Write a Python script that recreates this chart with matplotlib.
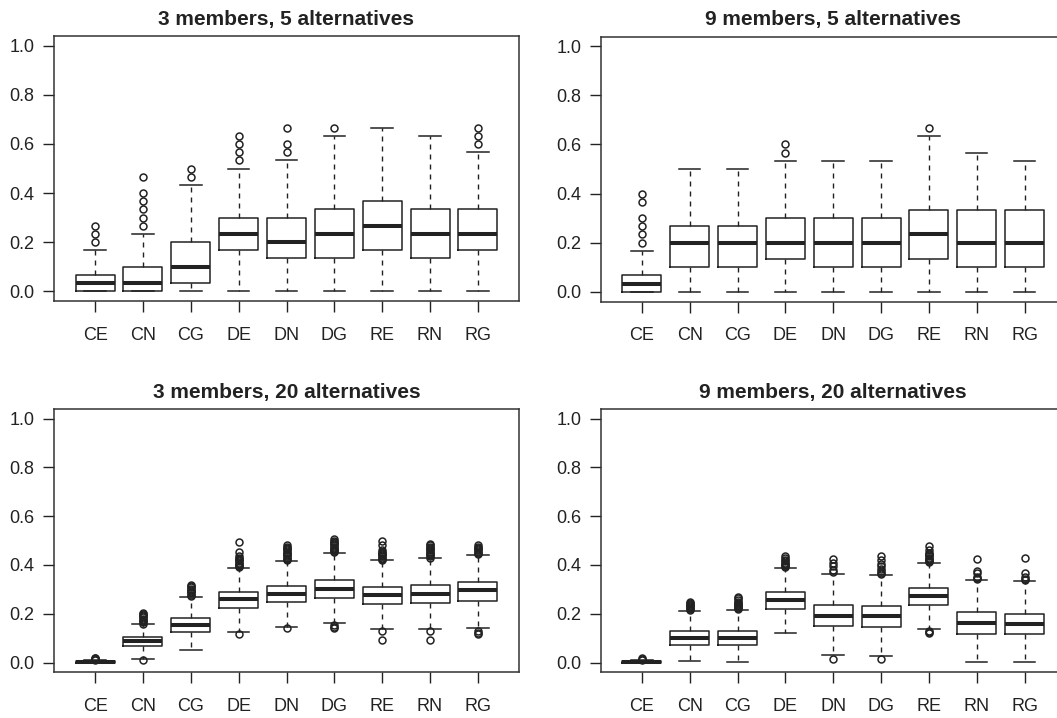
import matplotlib
matplotlib.use("Agg")
import matplotlib.pyplot as plt
import numpy as np

plt.rcParams['font.family'] = ['Liberation Sans', 'DejaVu Sans']

methods = ['CE', 'CN', 'CG', 'DE', 'DN', 'DG', 'RE', 'RN', 'RG']
titles = ['3 members, 5 alternatives', '9 members, 5 alternatives',
          '3 members, 20 alternatives', '9 members, 20 alternatives']

# ---- 3 members, 5 alternatives ----
m3a5_q1 = [0.0, 0.0, 0.0333, 0.1667, 0.1333, 0.1333, 0.1667, 0.1333, 0.1667]
m3a5_med = [0.0333, 0.0333, 0.1, 0.2333, 0.2, 0.2333, 0.2667, 0.2333, 0.2333]
m3a5_q3 = [0.0667, 0.1, 0.2, 0.3, 0.3, 0.3333, 0.3667, 0.3333, 0.3333]
m3a5_lo = [0.0, 0.0, 0.0, 0.0, 0.0, 0.0, 0.0, 0.0, 0.0]
m3a5_hi = [0.1667, 0.2333, 0.4333, 0.5, 0.5333, 0.6333, 0.6667, 0.6333, 0.5667]
m3a5_out = [[0.2, 0.2333, 0.2667],
            [0.2667, 0.3, 0.3333, 0.3667, 0.4, 0.4667],
            [0.4667, 0.5],
            [0.5333, 0.5667, 0.6, 0.6333],
            [0.5667, 0.6, 0.6667],
            [0.6667],
            [],
            [],
            [0.6, 0.6333, 0.6667]]

# ---- 9 members, 5 alternatives ----
m9a5_q1 = [0.0, 0.1, 0.1, 0.1333, 0.1, 0.1, 0.1333, 0.1, 0.1]
m9a5_med = [0.0333, 0.2, 0.2, 0.2, 0.2, 0.2, 0.2333, 0.2, 0.2]
m9a5_q3 = [0.0667, 0.2667, 0.2667, 0.3, 0.3, 0.3, 0.3333, 0.3333, 0.3333]
m9a5_lo = [0.0, 0.0, 0.0, 0.0, 0.0, 0.0, 0.0, 0.0, 0.0]
m9a5_hi = [0.1667, 0.5, 0.5, 0.5333, 0.5333, 0.5333, 0.6333, 0.5667, 0.5333]
m9a5_out = [[0.2, 0.2333, 0.2667, 0.3, 0.3667, 0.4],
            [], [],
            [0.5667, 0.6],
            [], [],
            [0.6667],
            [], []]

# ---- 3 members, 20 alternatives ----
m3a20_q1 = [0.0, 0.068, 0.127, 0.222, 0.248, 0.266, 0.241, 0.245, 0.254]
m3a20_med = [0.002, 0.087, 0.154, 0.259, 0.282, 0.301, 0.277, 0.282, 0.296]
m3a20_q3 = [0.005, 0.105, 0.184, 0.290, 0.314, 0.338, 0.310, 0.318, 0.331]
m3a20_lo = [0.0, 0.016, 0.052, 0.127, 0.147, 0.164, 0.136, 0.136, 0.143]
m3a20_hi = [0.010, 0.157, 0.269, 0.389, 0.416, 0.449, 0.419, 0.427, 0.440]
m3a20_out = [[0.012, 0.015, 0.018, 0.020],
             [0.160, 0.165, 0.170, 0.175, 0.180, 0.185, 0.190, 0.195, 0.200, 0.205, 0.010],
             [0.273, 0.278, 0.283, 0.288, 0.293, 0.298, 0.303, 0.308, 0.313, 0.318],
             [0.393, 0.397, 0.401, 0.405, 0.410, 0.415, 0.420, 0.425, 0.430, 0.435, 0.455, 0.495, 0.116],
             [0.420, 0.425, 0.430, 0.435, 0.440, 0.445, 0.450, 0.455, 0.460, 0.465, 0.470, 0.475, 0.480, 0.140],
             [0.452, 0.456, 0.460, 0.465, 0.470, 0.475, 0.480, 0.485, 0.490, 0.495, 0.500, 0.505, 0.155, 0.145, 0.140],
             [0.422, 0.426, 0.430, 0.435, 0.440, 0.445, 0.450, 0.455, 0.460, 0.480, 0.500, 0.130, 0.093],
             [0.430, 0.435, 0.440, 0.445, 0.450, 0.455, 0.460, 0.465, 0.470, 0.475, 0.480, 0.485, 0.130, 0.093],
             [0.445, 0.450, 0.455, 0.460, 0.465, 0.470, 0.475, 0.480, 0.130, 0.120, 0.115]]

# ---- 9 members, 20 alternatives ----
m9a20_q1 = [0.0, 0.071, 0.071, 0.221, 0.149, 0.146, 0.237, 0.119, 0.115]
m9a20_med = [0.003, 0.101, 0.101, 0.256, 0.192, 0.190, 0.273, 0.164, 0.160]
m9a20_q3 = [0.007, 0.128, 0.128, 0.289, 0.235, 0.231, 0.306, 0.206, 0.200]
m9a20_lo = [0.0, 0.007, 0.004, 0.120, 0.030, 0.026, 0.136, 0.004, 0.004]
m9a20_hi = [0.010, 0.210, 0.214, 0.389, 0.364, 0.357, 0.408, 0.338, 0.334]
m9a20_out = [[0.012, 0.016, 0.020],
             [0.214, 0.218, 0.222, 0.226, 0.230, 0.235, 0.240, 0.245, 0.250],
             [0.218, 0.222, 0.226, 0.230, 0.235, 0.240, 0.245, 0.250, 0.258, 0.265, 0.270],
             [0.393, 0.397, 0.401, 0.405, 0.410, 0.415, 0.420, 0.428, 0.435],
             [0.370, 0.380, 0.395, 0.410, 0.425, 0.016],
             [0.362, 0.368, 0.375, 0.385, 0.395, 0.405, 0.420, 0.435, 0.014],
             [0.412, 0.416, 0.420, 0.425, 0.430, 0.435, 0.440, 0.445, 0.450, 0.460, 0.478, 0.130, 0.125, 0.120],
             [0.341, 0.345, 0.350, 0.365, 0.375, 0.423],
             [0.338, 0.342, 0.350, 0.365, 0.427]]

panels = [
    (m3a5_q1, m3a5_med, m3a5_q3, m3a5_lo, m3a5_hi, m3a5_out),
    (m9a5_q1, m9a5_med, m9a5_q3, m9a5_lo, m9a5_hi, m9a5_out),
    (m3a20_q1, m3a20_med, m3a20_q3, m3a20_lo, m3a20_hi, m3a20_out),
    (m9a20_q1, m9a20_med, m9a20_q3, m9a20_lo, m9a20_hi, m9a20_out),
]

W, H = 1057, 718
rects = [
    [54 / W, 1 - 301 / H, 465 / W, 265 / H],
    [600.7 / W, 1 - 301.5 / H, 465 / W, 265 / H],
    [54 / W, 1 - 672.3 / H, 465 / W, 263.5 / H],
    [600.7 / W, 1 - 672.3 / H, 465 / W, 263.5 / H],
]

ink = '#222222'
fig = plt.figure(figsize=(W / 100, H / 100), dpi=100)

for rect, title, (q1, med, q3, lo, hi, out) in zip(rects, titles, panels):
    ax = fig.add_axes(rect)
    stats = []
    for i, name in enumerate(methods):
        stats.append({'label': name, 'q1': q1[i], 'med': med[i], 'q3': q3[i],
                      'whislo': lo[i], 'whishi': hi[i], 'fliers': out[i]})
    ax.bxp(stats, positions=np.arange(1, 10), widths=0.815, capwidths=0.45,
           boxprops=dict(color=ink, linewidth=1.1),
           medianprops=dict(color=ink, linewidth=2.9, solid_capstyle='butt'),
           whiskerprops=dict(color=ink, linewidth=1.0, linestyle=(0, (3.6, 3.6))),
           capprops=dict(color=ink, linewidth=1.1),
           flierprops=dict(marker='o', markersize=5, markerfacecolor='none',
                           markeredgecolor=ink, markeredgewidth=1.1, linestyle='none'))
    ax.set_xlim(0.14, 9.86)
    ax.set_ylim(-0.04, 1.04)
    ax.set_yticks(np.arange(0, 1.01, 0.2))
    ax.set_yticklabels([f'{v:.1f}' for v in np.arange(0, 1.01, 0.2)])
    ax.set_xticks(np.arange(1, 10))
    ax.set_xticklabels(methods)
    ax.tick_params(axis='both', direction='out', length=8, width=1.0,
                   color=ink, labelcolor=ink, labelsize=13)
    ax.tick_params(axis='y', pad=6)
    ax.tick_params(axis='x', pad=10.5)
    for sp in ax.spines.values():
        sp.set_color('#333333')
        sp.set_linewidth(1.1)
    ax.set_title(title, fontsize=15, fontweight='bold', color=ink, pad=8)

fig.savefig('out.png', dpi=100)
